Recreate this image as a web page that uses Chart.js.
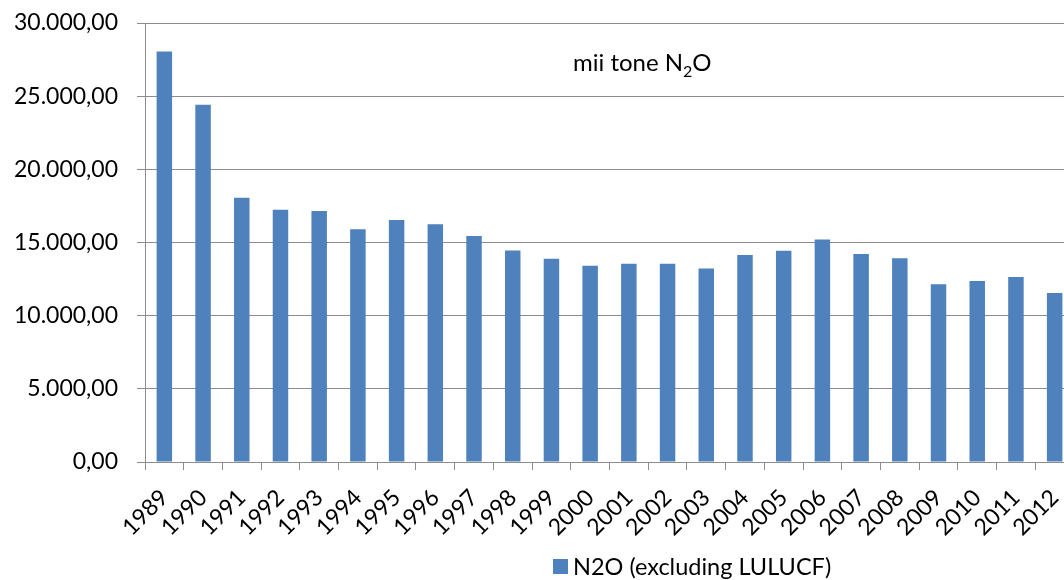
<!DOCTYPE html>
<html>
<head>
<meta charset="utf-8">
<script src="https://cdn.jsdelivr.net/npm/chart.js@4/dist/chart.umd.min.js"></script>
<style>
  html, body { margin: 0; padding: 0; background: #fff; overflow: hidden; }
  #wrap { position: absolute; left: 0; top: 0; width: 1076px; height: 580px; }
</style>
</head>
<body>
<div id="wrap"><canvas id="n2oChart" width="1076" height="580"></canvas></div>
<script>
// data
const years = ["1989", "1990", "1991", "1992", "1993", "1994", "1995", "1996",
  "1997", "1998", "1999", "2000", "2001", "2002", "2003", "2004", "2005",
  "2006", "2007", "2008", "2009", "2010", "2011", "2012"];
const n2oValues = [28060, 24420, 18050, 17230, 17160, 15910, 16530, 16240,
  15440, 14460, 13890, 13410, 13550, 13550, 13230, 14140, 14430,
  15210, 14210, 13920, 12140, 12370, 12640, 11550];
const yTicks = [0, 5000, 10000, 15000, 20000, 25000, 30000];
const seriesLabel = "N2O (excluding LULUCF)";
const unitText = ["mii tone N", "2", "O"];

const FONT = "Lato, 'Open Sans', sans-serif";
const BAR_BLUE = "#4f81bd";
const GRID = "#8c8c8c";

function fmt(v) {
  // 30000 -> 30.000,00
  const s = Math.round(v).toString().replace(/\B(?=(\d{3})+(?!\d))/g, ".");
  return s + ",00";
}

// unit text with real subscript, drawn as canvas text
const unitLabel = {
  id: "unitLabel",
  afterDraw(chart) {
    const c = chart.ctx;
    c.save();
    c.fillStyle = "#000";
    c.textBaseline = "alphabetic";
    c.textAlign = "left";
    c.font = "24px " + FONT;
    let x = 573;
    c.fillText(unitText[0], x, 71);
    x += c.measureText(unitText[0]).width;
    c.font = "16px " + FONT;
    c.fillText(unitText[1], x, 77);
    x += c.measureText(unitText[1]).width;
    c.font = "24px " + FONT;
    c.fillText(unitText[2], x, 71);
    c.restore();
  },
};

// legend placed like the original
const bottomLegend = {
  id: "bottomLegend",
  afterDraw(chart) {
    const c = chart.ctx;
    c.save();
    c.fillStyle = BAR_BLUE;
    c.fillRect(553, 559, 15, 15);
    c.fillStyle = "#000";
    c.font = "23.5px " + FONT;
    c.textBaseline = "alphabetic";
    c.fillText(chart.data.datasets[0].label, 573, 575);
    c.restore();
  },
};

new Chart(document.getElementById("n2oChart"), {
  type: "bar",
  data: {
    labels: years,
    datasets: [
      {
        label: seriesLabel,
        data: n2oValues,
        backgroundColor: BAR_BLUE,
        borderWidth: 0,
        barPercentage: 0.4,
        categoryPercentage: 1.0,
      },
    ],
  },
  options: {
    responsive: false,
    animation: false,
    layout: { padding: { top: 23, right: 2, left: 0, bottom: 0 } },
    plugins: {
      legend: { display: false },
      tooltip: { enabled: false },
      title: { display: false },
    },
    scales: {
      y: {
        min: 0,
        max: 30000,
        afterBuildTicks: function (axis) {
          axis.ticks = yTicks.map(function (v) { return { value: v }; });
        },
        afterFit: function (axis) {
          axis.width = 145;
          axis.paddingTop = 0;
          axis.paddingBottom = 0;
        },
        border: { color: GRID, width: 1 },
        grid: { color: GRID, lineWidth: 1, tickLength: 8 },
        ticks: {
          color: "#000",
          padding: 19,
          font: { family: FONT, size: 23 },
          callback: function (value) {
            return fmt(value);
          },
        },
      },
      x: {
        afterFit: function (axis) {
          axis.height = 118;
          axis.paddingTop = 0;
          axis.paddingBottom = 0;
          axis.paddingLeft = 0;
          axis.paddingRight = 0;
        },
        border: { color: GRID, width: 1 },
        grid: { drawOnChartArea: false, color: GRID, tickLength: 8 },
        ticks: {
          color: "#000",
          minRotation: 45,
          maxRotation: 45,
          padding: 14,
          autoSkip: false,
          font: { family: FONT, size: 23 },
        },
      },
    },
  },
  plugins: [unitLabel, bottomLegend],
});
</script>
</body>
</html>
